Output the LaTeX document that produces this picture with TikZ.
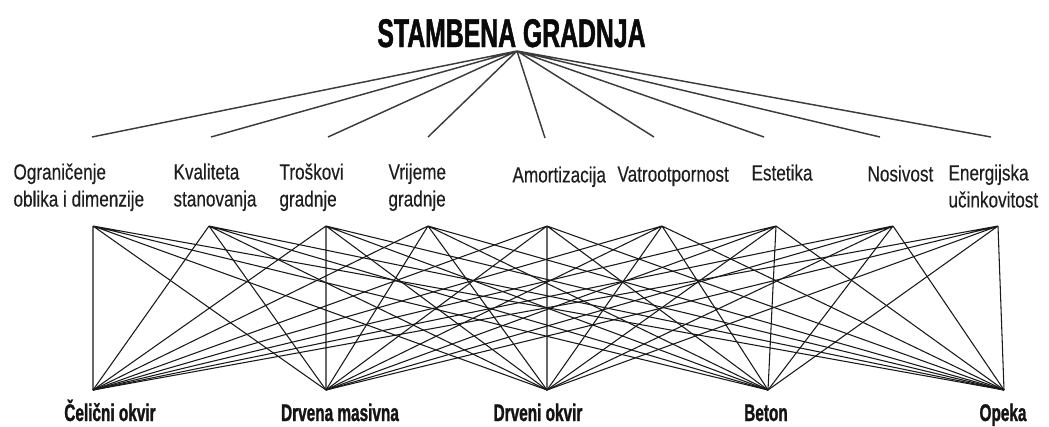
\documentclass[tikz,border=0pt]{standalone}
\usepackage{fontspec}
\setmainfont{Liberation Sans}
\newfontfamily\kritfont{Liberation Sans}[FakeStretch=0.78,FakeBold=0.3]
\newfontfamily\altfont{Liberation Sans}[FakeStretch=0.64,FakeBold=1.2]
\newfontfamily\naslovfont{Liberation Sans}[FakeStretch=0.62,FakeBold=1.2]

\tikzset{every picture/.style={line width=0.75pt}}
\tikzset{
  krit/.style={font=\kritfont\fontsize{16.5}{20.25}\selectfont,color={rgb, 255:red, 30; green, 30; blue, 30 },align=left},
  alt/.style={font=\altfont\bfseries\fontsize{18}{20}\selectfont,color={rgb, 255:red, 20; green, 20; blue, 20 }},
  gore/.style={color={rgb, 255:red, 60; green, 60; blue, 60 },line width=1.1pt},
  dolje/.style={color={rgb, 255:red, 25; green, 25; blue, 25 },line width=0.8pt}
}

\begin{document}
\begin{tikzpicture}[x=0.75pt,y=0.75pt,yscale=-1,xscale=1]
\useasboundingbox (0,0) rectangle (1049,426); %set diagram size 1049 x 426

% Text Node
\draw (511.5,47) node [anchor=base][inner sep=0.75pt] [font=\naslovfont\bfseries\fontsize{30}{32}\selectfont,color={rgb, 255:red, 10; green, 10; blue, 10 }] (naslov) {STAMBENA GRADNJA};

%Coordinates: ends of the lines
\coordinate (vrh) at (517,51);
\coordinate (u1) at (92,137);
\coordinate (u2) at (211,137);
\coordinate (u3) at (328,137);
\coordinate (u4) at (428,137);
\coordinate (u5) at (545,138);
\coordinate (u6) at (654,137);
\coordinate (u7) at (764,137);
\coordinate (u8) at (880,137);
\coordinate (u9) at (991,137);

\coordinate (d1) at (93,226);
\coordinate (d2) at (209,226);
\coordinate (d3) at (326,226);
\coordinate (d4) at (428,226);
\coordinate (d5) at (547,226);
\coordinate (d6) at (662,226);
\coordinate (d7) at (776,226);
\coordinate (d8) at (893,226);
\coordinate (d9) at (998,226);

\coordinate (a1) at (93,390);
\coordinate (a2) at (326,390);
\coordinate (a3) at (547,390);
\coordinate (a4) at (768,390);
\coordinate (a5) at (1004,390);

%Straight Lines: goal to criteria
\draw [gore] (vrh) -- (u1) (vrh) -- (u2) (vrh) -- (u3) (vrh) -- (u4) (vrh) -- (u5) (vrh) -- (u6) (vrh) -- (u7) (vrh) -- (u8) (vrh) -- (u9) ;

%Straight Lines: criteria to alternatives
\draw [dolje] (d1) -- (a1) (d1) -- (a2) (d1) -- (a3) (d1) -- (a4) (d1) -- (a5) ;
\draw [dolje] (d2) -- (a1) (d2) -- (a2) (d2) -- (a3) (d2) -- (a4) (d2) -- (a5) ;
\draw [dolje] (d3) -- (a1) (d3) -- (a2) (d3) -- (a3) (d3) -- (a4) (d3) -- (a5) ;
\draw [dolje] (d4) -- (a1) (d4) -- (a2) (d4) -- (a3) (d4) -- (a4) (d4) -- (a5) ;
\draw [dolje] (d5) -- (a1) (d5) -- (a2) (d5) -- (a3) (d5) -- (a4) (d5) -- (a5) ;
\draw [dolje] (d6) -- (a1) (d6) -- (a2) (d6) -- (a3) (d6) -- (a4) (d6) -- (a5) ;
\draw [dolje] (d7) -- (a1) (d7) -- (a2) (d7) -- (a3) (d7) -- (a4) (d7) -- (a5) ;
\draw [dolje] (d8) -- (a1) (d8) -- (a2) (d8) -- (a3) (d8) -- (a4) (d8) -- (a5) ;
\draw [dolje] (d9) -- (a1) (d9) -- (a2) (d9) -- (a3) (d9) -- (a4) (d9) -- (a5) ;

% Text Node
\draw (12,162) node [anchor=north west][inner sep=0.75pt] [krit] (k1) {Ograničenje\\oblika i dimenzije};
% Text Node
\draw (172,162) node [anchor=north west][inner sep=0.75pt] [krit] (k2) {Kvaliteta\\stanovanja};
% Text Node
\draw (278,162) node [anchor=north west][inner sep=0.75pt] [krit] (k3) {Troškovi\\gradnje};
% Text Node
\draw (387,162) node [anchor=north west][inner sep=0.75pt] [krit] (k4) {Vrijeme\\gradnje};
% Text Node
\draw (511,165) node [anchor=north west][inner sep=0.75pt] [krit] (k5) {Amortizacija};
% Text Node
\draw (616,165) node [anchor=north west][inner sep=0.75pt] [krit] (k6) {Vatrootpornost};
% Text Node
\draw (750,163) node [anchor=north west][inner sep=0.75pt] [krit] (k7) {Estetika};
% Text Node
\draw (866,164) node [anchor=north west][inner sep=0.75pt] [krit] (k8) {Nosivost};
% Text Node
\draw (947,163) node [anchor=north west][inner sep=0.75pt] [krit] (k9) {Energijska\\učinkovitost};

% Text Node
\draw (110,421) node [anchor=base][inner sep=0.75pt] [alt] (celik) {Čelični okvir};
% Text Node
\draw (340,421) node [anchor=base][inner sep=0.75pt] [alt] (masiv) {Drvena masivna};
% Text Node
\draw (538,421) node [anchor=base][inner sep=0.75pt] [alt] (okvir) {Drveni okvir};
% Text Node
\draw (766,421) node [anchor=base][inner sep=0.75pt] [alt] (beton) {Beton};
% Text Node
\draw (1003,421) node [anchor=base][inner sep=0.75pt] [alt] (opeka) {Opeka};

\end{tikzpicture}
\end{document}
